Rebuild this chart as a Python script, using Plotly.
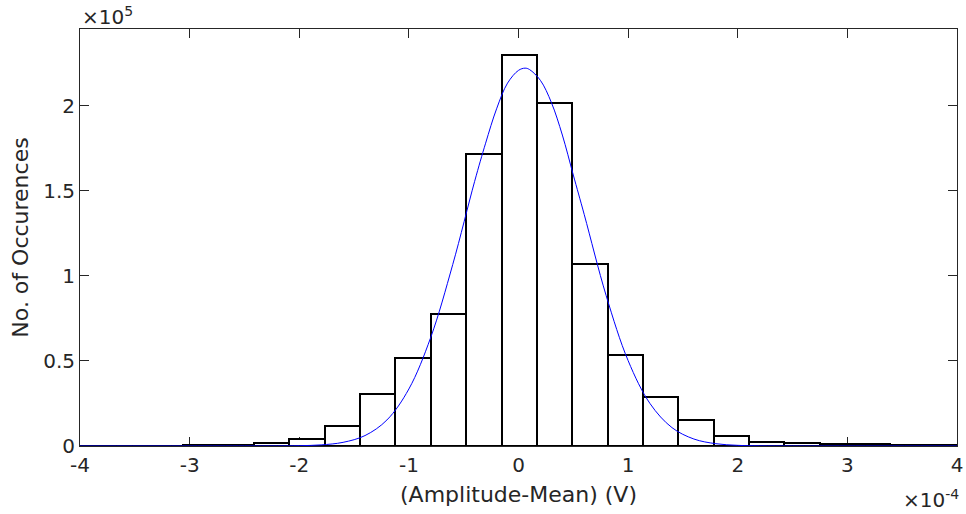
"""
    Histogram of amplitude deviations with a fitted normal curve, MATLAB look
"""

##########==========##########==========##########==========##########==========##########==========
## HEADER

import plotly.graph_objects as go

## bin centres, in units of 1e-4 V
bin_centres = [-3.8635, -3.541, -3.2185, -2.896, -2.5735, -2.251, -1.9285, -1.606, -1.2835,
    -0.961, -0.6385, -0.316, 0.0065, 0.329, 0.6515, 0.974, 1.2965, 1.619, 1.9415, 2.264,
    2.5865, 2.909, 3.2315, 3.554, 3.8765]
bin_width = 0.3225

## counts per bin
bin_counts = [100, 150, 250, 400, 800, 1900, 4300, 11900, 30500, 51500, 77600, 171700, 229900,
    201800, 107200, 53500, 29000, 15400, 5900, 2500, 1700, 1300, 1100, 800, 500]

## fitted curve (x in 1e-4 V)
fit_x = [-4.0, -3.0, -2.5, -2.2, -2.0, -1.8, -1.6, -1.4, -1.2, -1.0, -0.8, -0.6, -0.4, -0.3,
    -0.2, -0.1, 0.0, 0.06, 0.1, 0.2, 0.3, 0.4, 0.5, 0.6, 0.8, 1.0, 1.2, 1.4, 1.6, 1.8, 2.0,
    2.2, 2.5, 3.0, 4.0]
fit_y = [0, 0, 10, 40, 175, 656, 2150, 6130, 15300, 33500, 63900, 106600, 155500, 177900,
    198100, 213200, 220700, 222000, 221200, 214800, 201800, 182700, 159200, 135900, 88300,
    50150, 24900, 10800, 4100, 1360, 390, 100, 10, 0, 0]

x_ticks = [-4, -3, -2, -1, 0, 1, 2, 3, 4]
y_ticks = [0, 50000, 100000, 150000, 200000]
y_tick_text = ['0', '0.5', '1', '1.5', '2']

ink = '#262626'

##########==========##########==========##########==========##########==========##########==========
## FIGURE

fig = go.Figure()

## histogram bars
fig.add_trace(go.Bar(
    x = bin_centres, y = bin_counts, width = bin_width,
    marker = dict(color = 'white', line = dict(color = 'black', width = 2)),
    showlegend = False
    ))

## fitted normal curve
fig.add_trace(go.Scatter(
    x = fit_x, y = fit_y, mode = 'lines', line = dict(color = 'rgb(0,0,255)', width = 1, shape = 'spline'),
    showlegend = False
    ))

axis_common = dict(
    showline = True, linecolor = ink, linewidth = 1, mirror = 'ticks',
    ticks = 'inside', ticklen = 9, tickcolor = ink, tickwidth = 1,
    showgrid = False, zeroline = False, automargin = False, layer = 'below traces',
    tickfont = dict(family = 'DejaVu Sans', size = 20, color = ink)
    )

fig.update_layout(
    width = 966, height = 514,
    margin = dict(l = 80, r = 9, t = 29, b = 68),
    plot_bgcolor = 'white', paper_bgcolor = 'white',
    font = dict(family = 'DejaVu Sans', color = ink),
    bargap = 0,
    xaxis = dict(
        range = [-4, 4], tickvals = x_ticks, ticktext = [str(v) for v in x_ticks],
        ticklabelstandoff = 1,
        title = dict(text = '(Amplitude-Mean) (V)', font = dict(size = 22, color = ink), standoff = 10),
        **axis_common
        ),
    yaxis = dict(
        range = [0, 245000], tickvals = y_ticks, ticktext = y_tick_text,
        title = dict(text = 'No. of Occurences', font = dict(size = 22, color = ink), standoff = 8),
        **axis_common
        ),
    annotations = [
        dict(text = '×10<sup>5</sup>', xref = 'paper', yref = 'paper', x = 0, y = 1,
            xanchor = 'left', yanchor = 'bottom', showarrow = False, yshift = -2,
            font = dict(size = 20, color = ink)),
        dict(text = '×10<sup>-4</sup>', xref = 'paper', yref = 'paper', x = 1, y = 0,
            xanchor = 'right', yanchor = 'top', showarrow = False, yshift = -38, xshift = 4,
            font = dict(size = 20, color = ink))
        ]
    )

## drop the page's default body margin so the figure sits at the window's corner
fig.write_html('out.html', config = {'displayModeBar': False},
    post_script = "document.body.style.margin = '0px';")
